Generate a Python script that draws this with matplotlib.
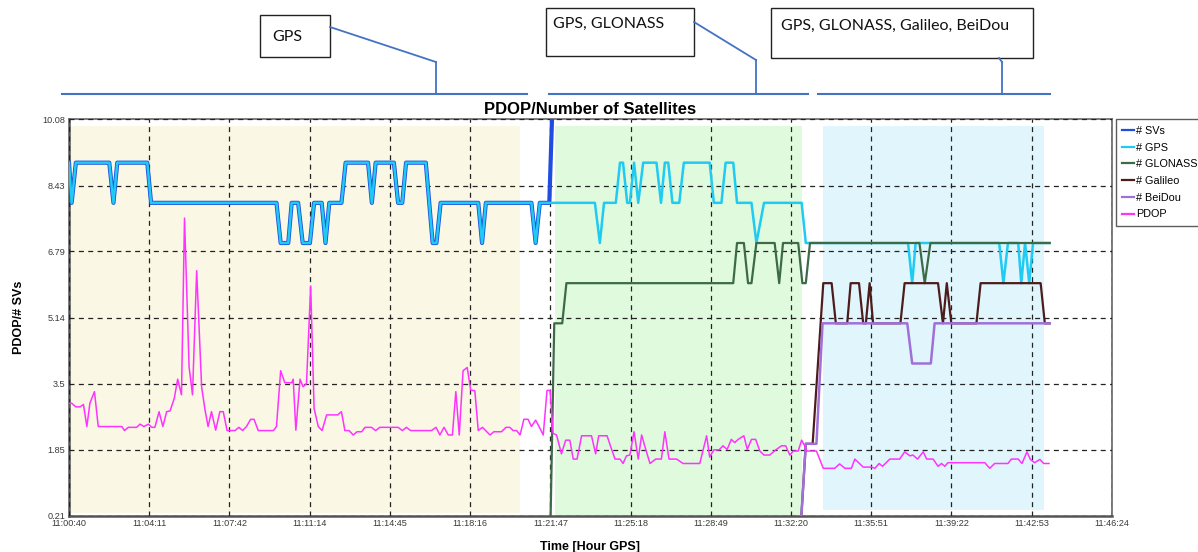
import matplotlib
matplotlib.use('Agg')
import matplotlib.pyplot as plt
from matplotlib.patches import Rectangle
import numpy as np

# time axis labels (GPS time)
tick_labels = ['11:00:40', '11:04:11', '11:07:42', '11:11:14', '11:14:45', '11:18:16', '11:21:47',
               '11:25:18', '11:28:49', '11:32:20', '11:35:51', '11:39:22', '11:42:53', '11:46:24']
y_ticks = [0.21, 1.85, 3.5, 5.14, 6.79, 8.43, 10.08]

# seconds after 11:00:40
gps_t = [0, 7, 18, 106, 117, 127, 206, 216, 546, 557, 577, 586, 603, 615, 634, 645, 665, 675, 685,
         717, 728, 787, 797, 807, 855, 866, 877, 887, 939, 957, 967, 978, 1077, 1087, 1097, 1217,
         1228, 1239, 1384, 1397, 1408, 1439, 1450, 1458, 1469, 1476, 1487, 1498, 1511, 1546, 1558,
         1568, 1577, 1588, 1606, 1618, 1686, 1697, 1717, 1728, 1748, 1758, 1796, 1809, 1829, 1928,
         1939, 2208, 2219, 2228, 2448, 2459, 2471, 2498, 2506, 2516, 2527, 2537, 2580]
gps_v = [9, 8, 9, 9, 8, 9, 9, 8, 8, 7, 7, 8, 8, 7, 7, 8, 8, 7, 8,
         8, 9, 9, 8, 9, 9, 8, 8, 9, 9, 7, 7, 8, 8, 7, 8, 8,
         7, 8, 8, 7, 8, 8, 9, 9, 8, 8, 9, 8, 9, 9, 8,
         9, 9, 8, 8, 9, 9, 8, 8, 9, 9, 8, 8, 7, 8, 8,
         7, 7, 6, 7, 7, 6, 7, 7, 6, 7, 6, 7, 7]

svs_t = gps_t[:38] + [1264, 1281, 1939, 2000, 2580]
svs_v = gps_v[:38] + [8, 13, 15, 18, 19]

glonass_t = [1267, 1277, 1298, 1309, 1748, 1758, 1776, 1787, 1796, 1809, 1857, 1869, 1879, 1919,
             1930, 1939, 1950, 2238, 2252, 2267, 2581]
glonass_v = [0, 5, 5, 6, 6, 7, 7, 6, 6, 7, 7, 6, 7, 7,
             6, 6, 7, 7, 6, 7, 7]

galileo_t = [1926, 1939, 1957, 1985, 2007, 2018, 2048, 2057, 2079, 2090, 2097, 2107, 2116, 2188,
             2199, 2287, 2300, 2310, 2322, 2388, 2399, 2557, 2568, 2581]
galileo_v = [0, 2, 2, 6, 6, 5, 5, 6, 6, 5, 5, 6, 5, 5,
             6, 6, 5, 6, 5, 5, 6, 6, 5, 5]

beidou_t = [1926, 1939, 1967, 1983, 2206, 2219, 2268, 2278, 2581]
beidou_v = [0, 2, 2, 5, 5, 4, 4, 5, 5]

pdop_t = [0, 7, 18, 29, 38, 47, 55, 67, 77, 139, 146, 156, 178, 187, 197, 209, 218, 226, 237, 247,
          257, 266, 277, 286, 296, 304, 316, 325, 336, 349, 358, 366, 375, 386, 397, 406, 416, 437,
          447, 457, 467, 478, 487, 498, 538, 546, 557, 568, 586, 590, 597, 608, 616, 625, 636, 645,
          656, 666, 678, 707, 717, 726, 737, 748, 758, 770, 779, 796, 807, 818, 866, 877, 888, 899,
          954, 966, 976, 987, 998, 1009, 1018, 1027, 1037, 1048, 1057, 1068, 1077, 1088, 1108, 1118,
          1138, 1150, 1160, 1169, 1178, 1187, 1197, 1208, 1217, 1228, 1237, 1248, 1258, 1266, 1274,
          1283, 1296, 1307, 1318, 1327, 1337, 1349, 1375, 1386, 1394, 1416, 1428, 1437, 1450, 1458,
          1467, 1476, 1487, 1498, 1507, 1518, 1529, 1544, 1559, 1568, 1579, 1599, 1616, 1660, 1678,
          1686, 1697, 1711, 1721, 1732, 1743, 1752, 1761, 1776, 1785, 1796, 1807, 1818, 1829, 1844,
          1860, 1875, 1886, 1897, 1906, 1919, 1928, 1936, 1942, 1967, 1985, 2015, 2028, 2042, 2059,
          2068, 2081, 2090, 2112, 2121, 2132, 2141, 2160, 2186, 2199, 2213, 2221, 2233, 2248, 2257,
          2274, 2287, 2296, 2305, 2313, 2410, 2423, 2436, 2471, 2480, 2498, 2508, 2521, 2530, 2541,
          2555, 2565, 2579]
pdop_v = [3.01, 3.01, 2.92, 2.92, 2.98, 2.43, 3.01, 3.30, 2.43, 2.43, 2.33, 2.41, 2.41, 2.49, 2.43,
          2.49, 2.41, 2.41, 2.80, 2.43, 2.80, 2.82, 3.13, 3.61, 3.22, 7.62, 3.92, 3.22, 6.31, 3.42,
          2.84, 2.43, 2.80, 2.34, 2.80, 2.80, 2.33, 2.33, 2.41, 2.33, 2.43, 2.61, 2.61, 2.33, 2.33,
          2.43, 3.82, 3.52, 3.52, 3.61, 2.34, 3.61, 3.42, 3.50, 5.93, 2.88, 2.43, 2.33, 2.72, 2.72,
          2.80, 2.33, 2.33, 2.22, 2.30, 2.30, 2.41, 2.41, 2.33, 2.41, 2.41, 2.33, 2.41, 2.33, 2.33,
          2.41, 2.22, 2.41, 2.22, 2.22, 3.30, 2.22, 3.82, 3.90, 3.34, 3.32, 2.33, 2.41, 2.22, 2.30,
          2.30, 2.41, 2.41, 2.33, 2.33, 2.22, 2.61, 2.61, 2.43, 2.59, 2.43, 2.22, 3.33, 3.33, 2.26,
          2.22, 1.75, 2.09, 2.09, 1.62, 1.62, 2.20, 2.20, 1.75, 2.20, 2.20, 1.86, 1.62, 1.62, 1.51,
          1.70, 1.72, 2.30, 1.62, 2.22, 1.85, 1.51, 1.62, 1.62, 2.30, 1.62, 1.62, 1.51, 1.51, 2.20,
          1.67, 1.85, 1.85, 1.95, 1.86, 2.11, 2.03, 2.11, 2.20, 1.86, 2.11, 2.11, 1.82, 1.72, 1.72,
          1.85, 1.95, 1.95, 1.72, 1.82, 1.82, 2.09, 1.95, 1.82, 1.82, 1.39, 1.39, 1.50, 1.39, 1.39,
          1.62, 1.50, 1.42, 1.42, 1.39, 1.51, 1.44, 1.62, 1.62, 1.80, 1.70, 1.72, 1.62, 1.80, 1.62,
          1.62, 1.44, 1.51, 1.44, 1.53, 1.53, 1.39, 1.51, 1.51, 1.62, 1.62, 1.51, 1.80, 1.61, 1.53,
          1.61, 1.51, 1.51]

# constellation periods (start, end, colour, bottom)
bands = [(0, 1187, '#faf7e4', 0.28), (1279, 1928, '#e0fade', 0.21), (1985, 2565, '#e0f6fc', 0.36)]
band_top = 9.91


def to_sec(s):
    h, m, sec = [int(p) for p in s.split(':')]
    return h * 3600 + m * 60 + sec - (11 * 3600 + 40)


W, H = 1198, 552
fig = plt.figure(figsize=(W / 100, H / 100), dpi=100)
plt.rcParams['font.family'] = ['Liberation Sans', 'DejaVu Sans']

ax = fig.add_axes([69 / W, 1 - 515.7 / H, (1111.7 - 69) / W, (515.7 - 119.3) / H])

for t0, t1, col, yb in bands:
    ax.fill_between([t0, t1], yb, band_top, color=col, lw=0, zorder=0)

xt = [to_sec(s) for s in tick_labels]
ax.set_xlim(xt[0], xt[-1])
ax.set_ylim(y_ticks[0], y_ticks[-1])
ax.set_xticks(xt)
ax.set_xticklabels(tick_labels)
ax.set_yticks(y_ticks)
ax.set_yticklabels([str(v) for v in y_ticks])
ax.tick_params(length=0, labelsize=6.6, colors='#3a3a3a', pad=2.5)
ax.grid(True, color='#222222', ls=(0, (4, 3.5)), lw=0.9, zorder=1)
ax.set_axisbelow(False)

for side in ['left', 'bottom']:
    ax.spines[side].set_color('#555555')
    ax.spines[side].set_linewidth(1.8)
for side in ['top', 'right']:
    ax.spines[side].set_color('#666666')
    ax.spines[side].set_linewidth(1.2)

ax.plot(svs_t, svs_v, color='#1f4de0', lw=3.0, label='# SVs', zorder=3)
ax.plot(gps_t, gps_v, color='#1fcbf2', lw=1.8, label='# GPS', zorder=3)
ax.plot(glonass_t, glonass_v, color='#3d6b47', lw=1.6, label='# GLONASS', zorder=3)
ax.plot(galileo_t, galileo_v, color='#4d1c1c', lw=1.6, label='# Galileo', zorder=3)
ax.plot(beidou_t, beidou_v, color='#a070d8', lw=1.8, label='# BeiDou', zorder=3)
ax.plot(pdop_t, pdop_v, color='#ff33ff', lw=1.1, label='PDOP', zorder=3)

ax.set_title('PDOP/Number of Satellites', fontsize=12, fontweight='bold', pad=4)
ax.set_ylabel('PDOP/# SVs', fontsize=9, fontweight='bold', labelpad=13)
ax.set_xlabel('Time [Hour GPS]', fontsize=9, fontweight='bold', labelpad=9)

leg = ax.legend(loc='upper left', bbox_to_anchor=(1.004, 1.0), fontsize=7.8, frameon=True,
                fancybox=False, borderpad=0.6, labelspacing=0.62, handlelength=1.1,
                handletextpad=0.15, borderaxespad=0)
leg.get_frame().set_edgecolor('#333333')
leg.get_frame().set_linewidth(1.0)
for ln in leg.get_lines():
    ln.set_linewidth(1.6)

# callouts above the chart, drawn in pixel coordinates
ov = fig.add_axes([0, 0, 1, 1])
ov.set_xlim(0, W)
ov.set_ylim(H, 0)
ov.axis('off')
ov.patch.set_visible(False)

blue = '#4472c4'
callouts = [
    ((62, 527), 436, [(436, 62), (330, 27)], (260, 15, 70, 42), 'GPS', (272, 37)),
    ((549, 808), 756, [(756, 60), (694, 22)], (546, 8, 148, 48), 'GPS, GLONASS', (553, 24)),
    ((818, 1050), 1002, [(1002, 62), (999, 58)], (771, 8, 262, 50), 'GPS, GLONASS, Galileo, BeiDou', (781, 26)),
]
for (x0, x1), xv, pts, box, txt, tpos in callouts:
    ov.plot([x0, x1], [94, 94], color=blue, lw=1.5)
    ov.plot([xv, xv], [94, pts[0][1]], color=blue, lw=1.3)
    ov.plot([p[0] for p in pts], [p[1] for p in pts], color=blue, lw=1.3)
    ov.add_patch(Rectangle((box[0], box[1]), box[2], box[3], fill=True, facecolor='white',
                           edgecolor='#222222', lw=1.0))
    ov.text(tpos[0], tpos[1], txt, fontsize=11.5, family=['Lato', 'DejaVu Sans'],
            ha='left', va='center', color='#111111')

fig.savefig('out.png', dpi=100)
